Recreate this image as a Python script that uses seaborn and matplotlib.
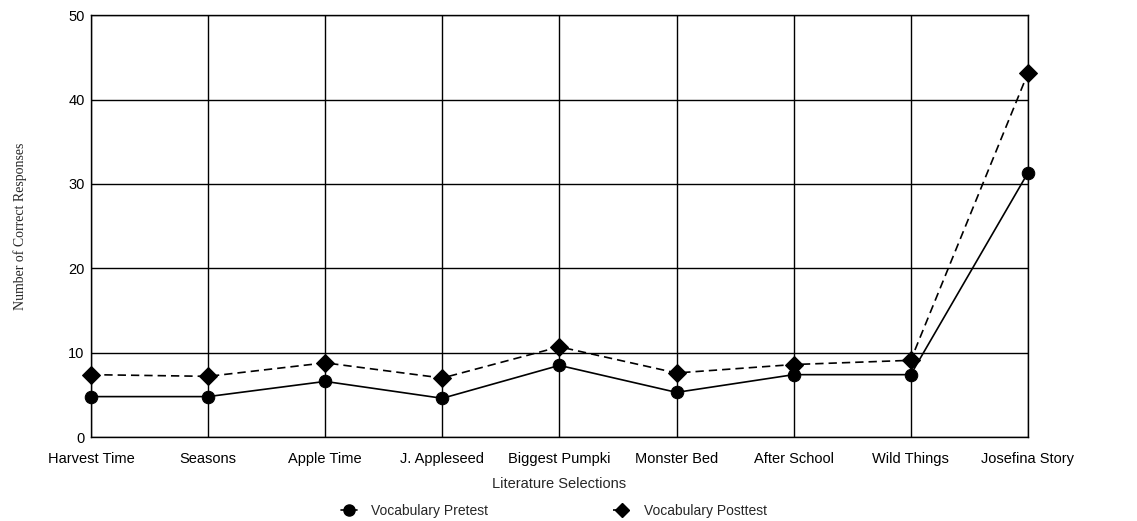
import matplotlib
matplotlib.use("Agg")
import matplotlib.pyplot as plt
import seaborn as sns
import pandas as pd
from matplotlib.lines import Line2D

categories = ["Harvest Time", "Seasons", "Apple Time", "J. Appleseed", "Biggest Pumpki",
              "Monster Bed", "After School", "Wild Things", "Josefina Story"]
pretest = [4.8, 4.8, 6.6, 4.6, 8.5, 5.3, 7.4, 7.4, 31.3]
posttest = [7.4, 7.2, 8.8, 7.0, 10.7, 7.6, 8.6, 9.1, 43.1]
series_names = ["Vocabulary Pretest", "Vocabulary Posttest"]
yticks = [0, 10, 20, 30, 40, 50]

rows = []
for i, c in enumerate(categories):
    rows.append({"idx": i, "cat": c, "series": series_names[0], "value": pretest[i]})
    rows.append({"idx": i, "cat": c, "series": series_names[1], "value": posttest[i]})
df = pd.DataFrame(rows)

sns.set_theme(style="white")
plt.rcParams["font.family"] = ["Liberation Sans", "DejaVu Sans"]

fig = plt.figure(figsize=(11.37, 5.21), dpi=100)
ax = fig.add_axes([0.080, 0.161, 0.824, 0.810])

sns.lineplot(data=df, x="idx", y="value", hue="series", style="series",
             palette={series_names[0]: "black", series_names[1]: "black"},
             markers={series_names[0]: "o", series_names[1]: "D"},
             dashes={series_names[0]: "", series_names[1]: (5, 3)},
             markersize=9, linewidth=1.2, markeredgecolor="black",
             ax=ax, legend=False)
for ln in ax.get_lines():
    ln.set_clip_on(False)
    ln.set_zorder(5)

ax.set_xlim(0, len(categories) - 1)
ax.set_ylim(0, 50)
ax.set_yticks(yticks)
ax.set_xticks(range(len(categories)))
ax.set_xticklabels(categories, fontsize=10.5)
ax.tick_params(axis="y", labelsize=10.5, length=5, direction="inout", colors="black", pad=2)
ax.tick_params(axis="x", length=5, direction="inout", colors="black", pad=8)
ax.grid(True, color="black", linewidth=1.0)
for s in ax.spines.values():
    s.set_color("black")
    s.set_linewidth(1.0)

ax.set_xlabel("Literature Selections", fontsize=10.5, labelpad=8)
ax.set_ylabel("Number of Correct Responses", fontsize=10,
              family=["Liberation Serif", "DejaVu Serif"], labelpad=30)

handles = [
    Line2D([0], [0], color="black", linestyle="-", marker="o", markersize=8, linewidth=1.2),
    Line2D([0], [0], color="black", linestyle="--", marker="D", markersize=7, linewidth=1.2),
]
fig.legend(handles, series_names, loc="center", bbox_to_anchor=(0.487, 0.02),
           ncol=2, frameon=False, fontsize=10, handlelength=1.2, columnspacing=9,
           handletextpad=1.0)

fig.savefig("out.png", dpi=100, facecolor="white")
